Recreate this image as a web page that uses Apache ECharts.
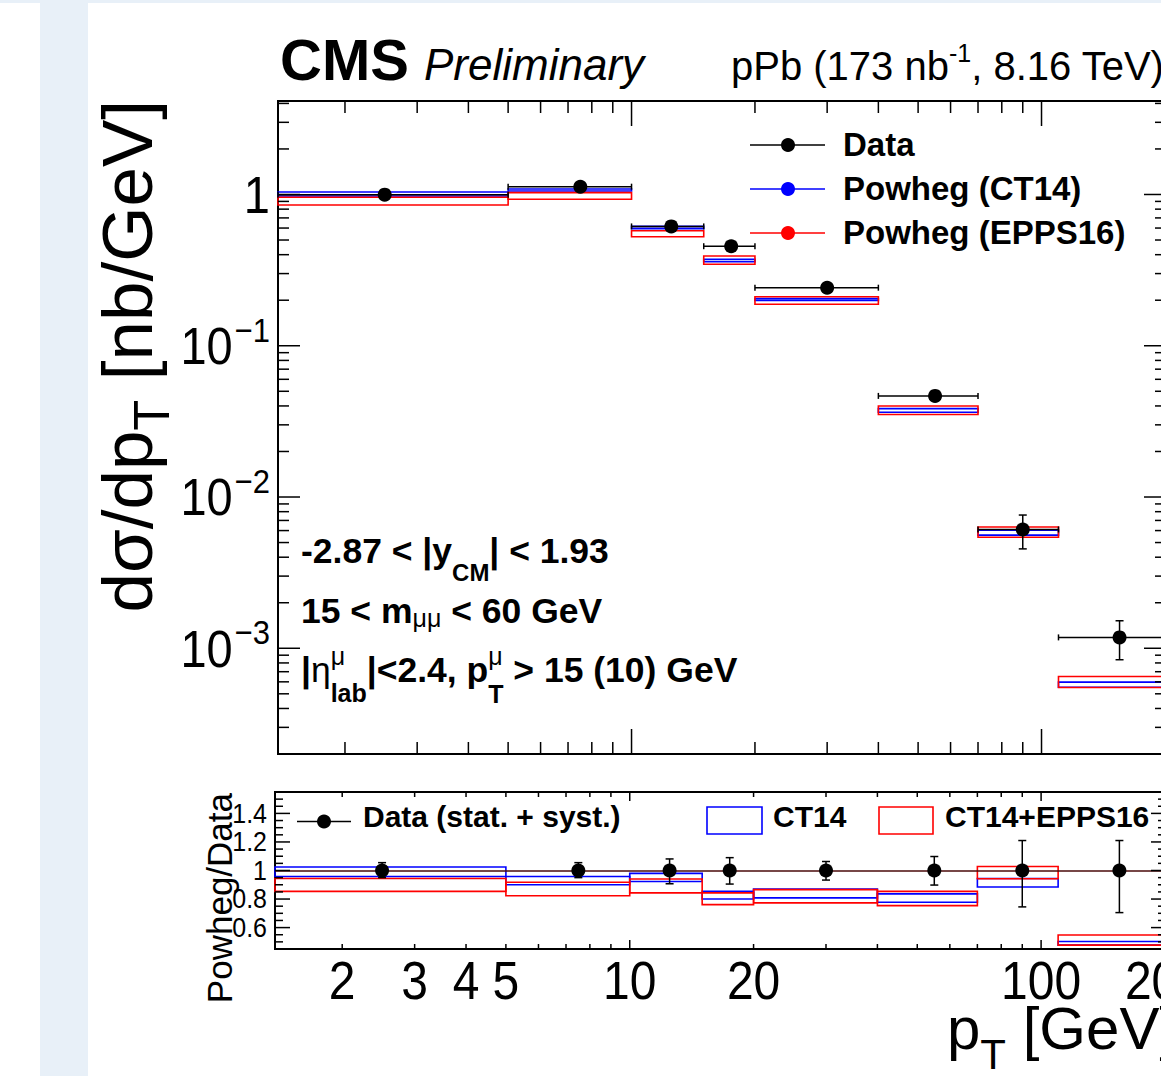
<!DOCTYPE html>
<html><head><meta charset="utf-8">
<script src="https://cdn.jsdelivr.net/npm/echarts@6/dist/echarts.min.js"></script>
<style>
html,body{margin:0;padding:0;overflow:hidden;background:#fff;width:1161px;height:1076px;}
#strip{position:absolute;left:40px;top:0;width:48px;height:1076px;background:#e8f0f8;}
#topstrip{position:absolute;left:0;top:0;width:1161px;height:3px;background:#e8f0f8;}
#chart{position:absolute;left:0;top:0;width:1400px;height:1076px;}
</style></head><body>
<div id="strip"></div><div id="topstrip"></div><div id="chart"></div>
<script>
// ---------------- data ----------------
const binLow    = [0, 5, 10, 15, 20, 40, 70, 110];
const binHigh   = [5, 10, 15, 20, 40, 70, 110, 200];
const binCenter = [2.5, 7.5, 12.5, 17.5, 30, 55, 90, 155];
const dataXsec    = [0.997, 1.126, 0.615, 0.455, 0.242, 0.0466, 0.0061, 0.00118];
const dataErrUp   = [0.05, 0.06, 0.05, 0.04, 0.016, 0.0045, 0.0015, 0.00034];
const dataErrDown = [0.05, 0.06, 0.05, 0.04, 0.016, 0.0045, 0.00156, 0.00034];
const ct14Low    = [0.977, 1.054, 0.595, 0.360, 0.199, 0.0363, 0.00560, 0.000553];
const ct14High   = [1.039, 1.087, 0.615, 0.373, 0.205, 0.0384, 0.00604, 0.000597];
const epps16Low  = [0.852, 0.930, 0.526, 0.346, 0.188, 0.0351, 0.00542, 0.000550];
const epps16High = [0.958, 1.028, 0.576, 0.392, 0.211, 0.0400, 0.00634, 0.000650];
const ratioErrUp   = [0.055, 0.055, 0.081, 0.09, 0.063, 0.098, 0.21, 0.21];
const ratioErrDown = [0.05, 0.05, 0.093, 0.095, 0.067, 0.102, 0.255, 0.295];
const ct14RatioLow    = [0.958, 0.900, 0.923, 0.800, 0.808, 0.778, 0.884, 0.477];
const ct14RatioHigh   = [1.024, 0.958, 0.980, 0.855, 0.870, 0.836, 0.944, 0.503];
const epps16RatioLow  = [0.854, 0.823, 0.843, 0.761, 0.773, 0.754, 0.942, 0.477];
const epps16RatioHigh = [0.944, 0.918, 0.940, 0.843, 0.866, 0.854, 1.028, 0.548];

const seriesNames = ['Data', 'Powheg (CT14)', 'Powheg (EPPS16)'];
const ratioLegendNames = ['Data (stat. + syst.)', 'CT14', 'CT14+EPPS16'];

// ticks and tick labels
const xMajorTicks = [10, 100];
const xMinorTicks = [2, 3, 4, 5, 6, 7, 8, 9, 20, 30, 40, 50, 60, 70, 80, 90, 200];
const xTickLabelValues = [2, 3, 4, 5, 10, 20, 100, 200];
const xTickLabels = ['2', '3', '4', '5', '10', '20', '100', '200'];
const yMajorTicks = [0.001, 0.01, 0.1, 1];
const yMinorTicks = [0.0002, 0.0003, 0.0004, 0.0005, 0.0006, 0.0007, 0.0008, 0.0009,
  0.002, 0.003, 0.004, 0.005, 0.006, 0.007, 0.008, 0.009,
  0.02, 0.03, 0.04, 0.05, 0.06, 0.07, 0.08, 0.09,
  0.2, 0.3, 0.4, 0.5, 0.6, 0.7, 0.8, 0.9, 2, 3, 4];
const yLabelValues = [1, 0.1, 0.01, 0.001];
const yLabelExponents = ['', '\u22121', '\u22122', '\u22123'];
const rMajorTicks = [0.6, 0.8, 1.0, 1.2, 1.4];
const rMinorTicks = [0.5, 0.55, 0.65, 0.7, 0.75, 0.85, 0.9, 0.95, 1.05, 1.1, 1.15, 1.25, 1.3, 1.35, 1.45, 1.5];
const rLabelValues = [1.4, 1.2, 1.0, 0.8, 0.6];
const rLabels = ['1.4', '1.2', '1', '0.8', '0.6'];

// axis ranges
const X_MIN = 1.373, X_MAX = 201.2;
const Y_MIN = 2.0e-4, Y_MAX = 4.15;
const R_MIN = 0.45, R_MAX = 1.55;

// ---------------- helpers ----------------
const FONT = '"Liberation Sans", Arial, Helvetica, sans-serif';
const mctx = document.createElement('canvas').getContext('2d');
function tw(t, fs, w, st) { mctx.font = (st || 'normal') + ' ' + (w || 'normal') + ' ' + fs + 'px ' + FONT; return mctx.measureText(t).width; }
function txt(t, x, base, fs, o) {
  o = o || {};
  const el = { type: 'text', x: x, y: base - 0.35 * fs, silent: true, z: 50,
    style: { text: t, fontSize: fs, fontFamily: FONT, fontWeight: o.w || 'normal', fontStyle: o.st || 'normal',
      fill: o.c || '#000', align: o.align || 'left', verticalAlign: 'middle' } };
  if (o.sy) el.scaleY = o.sy;
  return el;
}
function runsWidth(pieces) { let w = 0; pieces.forEach(p => { if (!p.stack) w += tw(p.t, p.fs, p.w, p.st); }); return w; }
function runs(x, base, pieces) {
  let cx = x; const out = [];
  pieces.forEach(p => { out.push(txt(p.t, cx, base + (p.dy || 0), p.fs, p)); if (!p.stack) cx += tw(p.t, p.fs, p.w, p.st); });
  return out;
}
function ln(x1, y1, x2, y2, c, w) { return { type: 'line', shape: { x1: x1, y1: y1, x2: x2, y2: y2 }, style: { stroke: c || '#000', lineWidth: w || 1.5 } }; }

function boxRender(color) {
  return function (params, api) {
    const x0 = Math.max(api.value(0), X_MIN), x1 = Math.min(api.value(1), X_MAX);
    const p0 = api.coord([x0, api.value(2)]), p1 = api.coord([x1, api.value(3)]);
    return { type: 'rect', shape: { x: p0[0], y: p1[1], width: p1[0] - p0[0], height: p0[1] - p1[1] },
      style: { fill: 'none', stroke: color, lineWidth: 1.6 } };
  };
}
function errRender(withX) {
  return function (params, api) {
    const xc = api.value(0), y = api.value(1);
    const pc = api.coord([xc, y]);
    const pu = api.coord([xc, y + api.value(4)]), pd = api.coord([xc, y - api.value(5)]);
    const ch = [];
    if (withX) {
      const pl = api.coord([Math.max(api.value(2), X_MIN), y]), ph = api.coord([api.value(3), y]);
      ch.push(ln(pl[0], pc[1], ph[0], pc[1]));
      ch.push(ln(pl[0], pc[1] - 3, pl[0], pc[1] + 3));
      ch.push(ln(ph[0], pc[1] - 3, ph[0], pc[1] + 3));
    }
    if (pc[1] - pu[1] > 7) { ch.push(ln(pc[0], pu[1], pc[0], pc[1])); ch.push(ln(pc[0] - 4, pu[1], pc[0] + 4, pu[1])); }
    if (pd[1] - pc[1] > 7) { ch.push(ln(pc[0], pd[1], pc[0], pc[1])); ch.push(ln(pc[0] - 4, pd[1], pc[0] + 4, pd[1])); }
    return { type: 'group', children: ch };
  };
}
function xTickRender(majLen, minLen) {
  return function (params, api) {
    const cs = params.coordSys;
    const px = api.coord([api.value(0), api.value(2)])[0];
    const L = api.value(1) ? majLen : minLen;
    const top = cs.y, bot = cs.y + cs.height;
    return { type: 'group', children: [ln(px, bot, px, bot - L), ln(px, top, px, top + L)] };
  };
}
function yTickRender(majLen, minLen) {
  return function (params, api) {
    const cs = params.coordSys;
    const py = api.coord([api.value(0), api.value(1)])[1];
    const L = api.value(2) ? majLen : minLen;
    const l = cs.x, r = cs.x + cs.width;
    return { type: 'group', children: [ln(l, py, l + L, py), ln(r, py, r - L, py)] };
  };
}
const hidden = { axisLine: { show: false }, axisTick: { show: false }, axisLabel: { show: false }, splitLine: { show: false } };

// ---------------- series ----------------
const series = [];
// top panel ticks
series.push({ type: 'custom', xAxisIndex: 0, yAxisIndex: 0, silent: true, z: 20, encode: { x: 0, y: 2 },
  data: xMajorTicks.map(v => [v, 1, 1]).concat(xMinorTicks.map(v => [v, 0, 1])), renderItem: xTickRender(25, 12) });
series.push({ type: 'custom', xAxisIndex: 0, yAxisIndex: 0, silent: true, z: 20, encode: { x: 0, y: 1 },
  data: yMajorTicks.map(v => [10, v, 1]).concat(yMinorTicks.map(v => [10, v, 0])), renderItem: yTickRender(22, 11) });
// top panel y labels
series.push({ type: 'custom', xAxisIndex: 0, yAxisIndex: 0, silent: true, z: 20, encode: { x: 0, y: 1 },
  data: yLabelValues.map(v => [10, v]),
  renderItem: function (params, api) {
    const py = api.coord([api.value(0), api.value(1)])[1];
    const exp = yLabelExponents[params.dataIndex];
    const right = 270, fs = 47, base = py + 0.35 * fs;
    if (!exp) return txt('1', right, base, fs, { align: 'right', sy: 1.1 });
    const ew = tw(exp, 31);
    return { type: 'group', children: [txt('10', right - ew - 2, base, fs, { align: 'right', sy: 1.1 }), txt(exp, right, base - 21, 31, { align: 'right', sy: 1.1 })] };
  } });
// boxes top
series.push({ type: 'custom', name: seriesNames[1], xAxisIndex: 0, yAxisIndex: 0, z: 5, encode: { x: 1, y: 3 },
  data: binLow.map((lo, i) => [lo, binHigh[i], ct14Low[i], ct14High[i]]), renderItem: boxRender('#0000ff') });
series.push({ type: 'custom', name: seriesNames[2], xAxisIndex: 0, yAxisIndex: 0, z: 6, encode: { x: 1, y: 3 },
  data: binLow.map((lo, i) => [lo, binHigh[i], epps16Low[i], epps16High[i]]), renderItem: boxRender('#ff0000') });
// data error bars top
series.push({ type: 'custom', xAxisIndex: 0, yAxisIndex: 0, z: 8, encode: { x: 0, y: 1 },
  data: binCenter.map((c, i) => [c, dataXsec[i], binLow[i], binHigh[i], dataErrUp[i], dataErrDown[i]]), renderItem: errRender(true) });
series.push({ type: 'scatter', name: seriesNames[0], xAxisIndex: 0, yAxisIndex: 0, z: 9, symbol: 'circle', symbolSize: 14,
  itemStyle: { color: '#000', opacity: 1 }, data: binCenter.map((c, i) => [c, dataXsec[i]]) });

// ratio panel ticks
series.push({ type: 'custom', xAxisIndex: 1, yAxisIndex: 1, silent: true, z: 20, encode: { x: 0, y: 2 },
  data: xMajorTicks.map(v => [v, 1, 1]).concat(xMinorTicks.map(v => [v, 0, 1])), renderItem: xTickRender(9, 5) });
series.push({ type: 'custom', xAxisIndex: 1, yAxisIndex: 1, silent: true, z: 20, encode: { x: 0, y: 1 },
  data: rMajorTicks.map(v => [10, v, 1]).concat(rMinorTicks.map(v => [10, v, 0])), renderItem: yTickRender(15, 8) });
// ratio x labels
series.push({ type: 'custom', xAxisIndex: 1, yAxisIndex: 1, silent: true, z: 20, encode: { x: 0, y: 1 },
  data: xTickLabelValues.map(v => [v, 1]),
  renderItem: function (params, api) {
    const px = api.coord([api.value(0), api.value(1)])[0];
    const fs = 48;
    return txt(xTickLabels[params.dataIndex], px, 981 + 0.35 * fs, fs, { align: 'center', sy: 1.1 });
  } });
// ratio y labels
series.push({ type: 'custom', xAxisIndex: 1, yAxisIndex: 1, silent: true, z: 20, encode: { x: 0, y: 1 },
  data: rLabelValues.map(v => [10, v]),
  renderItem: function (params, api) {
    const py = api.coord([api.value(0), api.value(1)])[1];
    const fs = 25;
    return txt(rLabels[params.dataIndex], 267, py + 0.35 * fs, fs, { align: 'right', sy: 1.1 });
  } });
// ratio boxes
series.push({ type: 'custom', name: ratioLegendNames[1], xAxisIndex: 1, yAxisIndex: 1, z: 5, encode: { x: 1, y: 3 },
  data: binLow.map((lo, i) => [lo, binHigh[i], ct14RatioLow[i], ct14RatioHigh[i]]), renderItem: boxRender('#0000ff') });
series.push({ type: 'custom', name: ratioLegendNames[2], xAxisIndex: 1, yAxisIndex: 1, z: 6, encode: { x: 1, y: 3 },
  data: binLow.map((lo, i) => [lo, binHigh[i], epps16RatioLow[i], epps16RatioHigh[i]]), renderItem: boxRender('#ff0000') });
series.push({ type: 'custom', xAxisIndex: 1, yAxisIndex: 1, z: 8, encode: { x: 0, y: 1 },
  data: binCenter.map((c, i) => [c, 1, binLow[i], binHigh[i], ratioErrUp[i], ratioErrDown[i]]), renderItem: errRender(false) });
series.push({ type: 'scatter', name: ratioLegendNames[0], xAxisIndex: 1, yAxisIndex: 1, z: 9, symbol: 'circle', symbolSize: 14,
  itemStyle: { color: '#000', opacity: 1 }, data: binCenter.map(c => [c, 1]),
  markLine: { silent: true, symbol: ['none', 'none'], label: { show: false }, z: 7,
    lineStyle: { color: '#4a0a0a', width: 1.5, type: 'solid', opacity: 1 }, data: [{ yAxis: 1 }] } });

// ---------------- graphic texts & legends ----------------
const g = [];
g.push(txt('CMS', 280, 80, 58, { w: 'bold' }));
g.push(txt('Preliminary', 424, 80, 44, { st: 'italic' }));
runs(731, 80, [{ t: 'pPb (173 nb', fs: 40 }, { t: '-1', fs: 25, dy: -18 }, { t: ', 8.16 TeV)', fs: 40 }]).forEach(e => g.push(e));

runs(301, 563, [{ t: '-2.87 < |y', fs: 35.5, w: 'bold' }, { t: 'CM', fs: 24, w: 'bold', dy: 18 }, { t: '| < 1.93', fs: 35.5, w: 'bold' }]).forEach(e => g.push(e));
runs(301, 623, [{ t: '15 < m', fs: 35.5, w: 'bold' }, { t: '\u03bc\u03bc', fs: 25, dy: 4 }, { t: ' < 60 GeV', fs: 35.5, w: 'bold' }]).forEach(e => g.push(e));
runs(301, 682, [{ t: '|', fs: 35.5, w: 'bold' }, { t: '\u03b7', fs: 35.5 }, { t: '\u03bc', fs: 25, dy: -17, stack: true }, { t: 'lab', fs: 25, w: 'bold', dy: 20 },
  { t: '|<2.4, p', fs: 35.5, w: 'bold' }, { t: '\u03bc', fs: 25, dy: -17, stack: true }, { t: 'T', fs: 25, w: 'bold', dy: 21 },
  { t: ' > 15 (10) GeV', fs: 35.5, w: 'bold' }]).forEach(e => g.push(e));

// top legend
const legColors = ['#000', '#0000ff', '#ff0000'];
const legRows = [145, 189, 233];
seriesNames.forEach((n, i) => {
  const y = legRows[i];
  g.push(ln(750, y, 825, y, legColors[i], 1.5));
  g.push({ type: 'circle', shape: { cx: 788, cy: y, r: 7 }, style: { fill: legColors[i] }, z: 50 });
  g.push(txt(n, 843, y + 11, 33, { w: 'bold' }));
});
// ratio legend
g.push(ln(297, 821.5, 351, 821.5, '#000', 1.5));
g.push({ type: 'circle', shape: { cx: 324, cy: 821.5, r: 7 }, style: { fill: '#000' }, z: 50 });
g.push(txt(ratioLegendNames[0], 363, 827, 30, { w: 'bold' }));
g.push({ type: 'rect', shape: { x: 707, y: 807, width: 55, height: 27 }, style: { fill: 'none', stroke: '#0000ff', lineWidth: 1.6 }, z: 50 });
g.push(txt(ratioLegendNames[1], 773, 827, 30, { w: 'bold' }));
g.push({ type: 'rect', shape: { x: 879, y: 807, width: 54, height: 27 }, style: { fill: 'none', stroke: '#ff0000', lineWidth: 1.6 }, z: 50 });
g.push(txt(ratioLegendNames[2], 945, 827, 30, { w: 'bold' }));

// axis titles
function rotTitle(pieces, baseX, topY) {
  const W = runsWidth(pieces);
  return { type: 'group', x: baseX, y: topY, rotation: Math.PI / 2, children: runs(-W, 0, pieces) };
}
g.push(rotTitle([{ t: 'd\u03c3/dp', fs: 71 }, { t: 'T', fs: 50, dy: 17 }, { t: ' [nb/GeV]', fs: 71 }], 152, 100));
g.push(rotTitle([{ t: 'Powheg/Data', fs: 35 }], 232, 793));
runs(947, 1049, [{ t: 'p', fs: 60 }, { t: 'T', fs: 42, dy: 20 }, { t: ' [GeV]', fs: 60 }]).forEach(e => g.push(e));

const option = {
  animation: false,
  backgroundColor: 'transparent',
  grid: [
    { left: 278, top: 101, width: 888, height: 653, show: true, borderColor: '#000', borderWidth: 2, backgroundColor: 'transparent' },
    { left: 275, top: 792, width: 891, height: 157, show: true, borderColor: '#000', borderWidth: 2, backgroundColor: 'transparent' }
  ],
  xAxis: [
    Object.assign({ gridIndex: 0, type: 'log', logBase: 10, min: X_MIN, max: X_MAX }, hidden),
    Object.assign({ gridIndex: 1, type: 'log', logBase: 10, min: X_MIN, max: X_MAX }, hidden)
  ],
  yAxis: [
    Object.assign({ gridIndex: 0, type: 'log', logBase: 10, min: Y_MIN, max: Y_MAX }, hidden),
    Object.assign({ gridIndex: 1, type: 'value', min: R_MIN, max: R_MAX }, hidden)
  ],
  series: series,
  graphic: { elements: g }
};
const chart = echarts.init(document.getElementById('chart'), null, { renderer: 'svg', width: 1400, height: 1076 });
chart.setOption(option);
</script></body></html>
